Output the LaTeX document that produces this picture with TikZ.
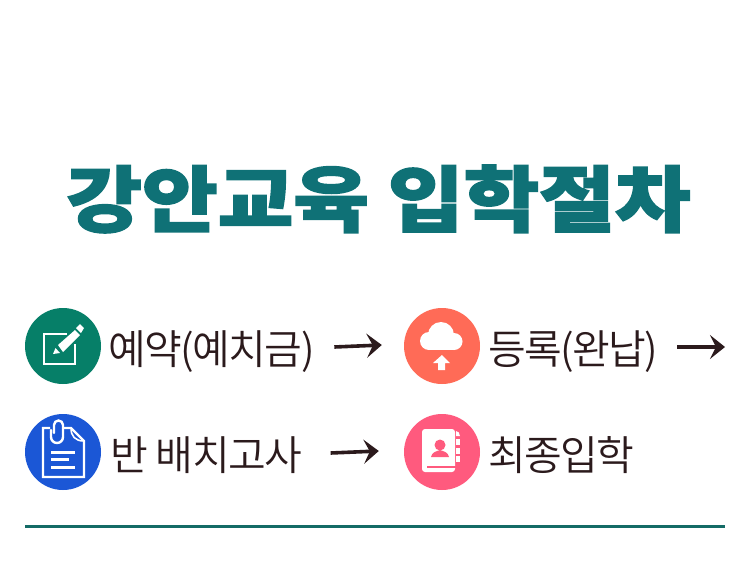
\documentclass[tikz,border=0pt]{standalone}
\usepackage{fontspec}
\usetikzlibrary{arrows.meta,calc}
\newfontfamily\krblack[FakeBold=2]{Noto Sans CJK KR Black}
\newfontfamily\krlight[LetterSpace=-4]{Noto Sans CJK KR DemiLight}
\definecolor{titlec}{HTML}{0F7176}
\definecolor{inkc}{HTML}{2B1A1C}
\definecolor{ruleg}{HTML}{146B66}
\definecolor{cgreen}{HTML}{067F68}
\definecolor{cblue}{HTML}{1B57D6}
\definecolor{corange}{HTML}{FF6B57}
\definecolor{cpink}{HTML}{FF5A7E}
\tikzset{
 lab/.style={inner sep=0pt,anchor=west,text=inkc,text height=40pt,text depth=6pt,font=\krlight\fontsize{41}{41}\selectfont},
 disc/.style={circle,inner sep=0pt,minimum size=76pt},
 flow/.style={draw=inkc,line width=3.6pt,-{Stealth[length=15pt,width=24pt,inset=6pt]}},
 ico/.style={draw=white,line width=2.4pt},
}
\begin{document}
\begin{tikzpicture}[x=1pt,y=-1pt]
\useasboundingbox (0,0) rectangle (750,573);
\node (title) [inner sep=0pt,text=titlec,xscale=1.097,yscale=0.96,font=\krblack\fontsize{75}{75}\selectfont] at (378.5,199) {강안교육 입학절차};
\node (i1) [disc,fill=cgreen] at (63,346) {};
\node (i2) [disc,fill=corange] at (442,346) {};
\node (i3) [disc,fill=cblue] at (63,452) {};
\node (i4) [disc,fill=cpink] at (442,452) {};
\node (t1) [lab] at (108.5,347) {예약(예치금)};
\node (t2) [lab] at (488,347) {등록(완납)};
\node (t3) [lab] at (110.5,453) {반 배치고사};
\node (t4) [lab] at (488,453) {최종입학};
\coordinate (end2) at (725,347);
\draw[flow] ([xshift=19.5pt]t1.east) -- ([xshift=-22pt,yshift=1pt]i2.west);
\draw[flow] ([xshift=19pt]t2.east) -- (end2);
\draw[flow] ([xshift=28.5pt]t3.east) -- ([xshift=-25pt,yshift=1pt]i4.west);
\coordinate (r1) at (25,526);
\coordinate (r2) at (725,526);
\draw[ruleg,line width=3pt] (r1) -- (r2);
% note icon
\draw[ico] (67,334) -- (44,334) -- (44,364) -- (75,364) -- (75,344);
\fill[white] (58,345) -- (75,330) -- (80,335) -- (63,352) -- cycle;
\fill[white] (53,354) -- (55.5,348) -- (60,353) -- cycle;
\fill[white] (76,328) -- (80,324) -- (84,328) -- (81,333) -- cycle;
% document icon
\draw[ico] (50,428) -- (43,428) -- (43,477) -- (84,477) -- (84,441) -- (71,428) -- (63,428);
\draw[ico,line width=1.6pt] (71,428) .. controls (71,436) and (75,441) .. (84,441);
\draw[ico,line cap=round] (54,433) -- (54,425) arc (180:360:4.5) -- (63,437) arc (0:180:6) -- (51,430);
\foreach \yy/\xb in {452/75,459.5/69,467/75} \draw[white,line width=3pt] (51,\yy) -- (\xb,\yy);
% cloud icon
\fill[white] (441,335) circle (13);
\fill[white] (429,341) circle (9);
\fill[white] (454,341.5) circle (8.5);
\fill[white] (429,339) rectangle (454,350);
\fill[white] (442,355) -- (450,363) -- (445,363) -- (445,370) -- (438,370) -- (438,363) -- (433,363) -- cycle;
% address book icon
\fill[white,rounded corners=3pt] (422,429) rectangle (455,472);
\fill[cpink] (427,465.5) rectangle (456,468);
\fill[white] (456,431) .. controls (458,431) and (460,433) .. (460,436) -- (456,436) -- cycle;
\fill[white] (456,439) rectangle (460,445);
\fill[white] (456,447.5) rectangle (460,453.5);
\fill[white] (456,456) rectangle (460,462);
\fill[cpink] (440,445) circle (5.5);
\fill[cpink] (431,457) .. controls (432,452) and (436,451.5) .. (440,450) .. controls (444,451.5) and (448,452) .. (449,457) -- cycle;
\end{tikzpicture}
\end{document}
